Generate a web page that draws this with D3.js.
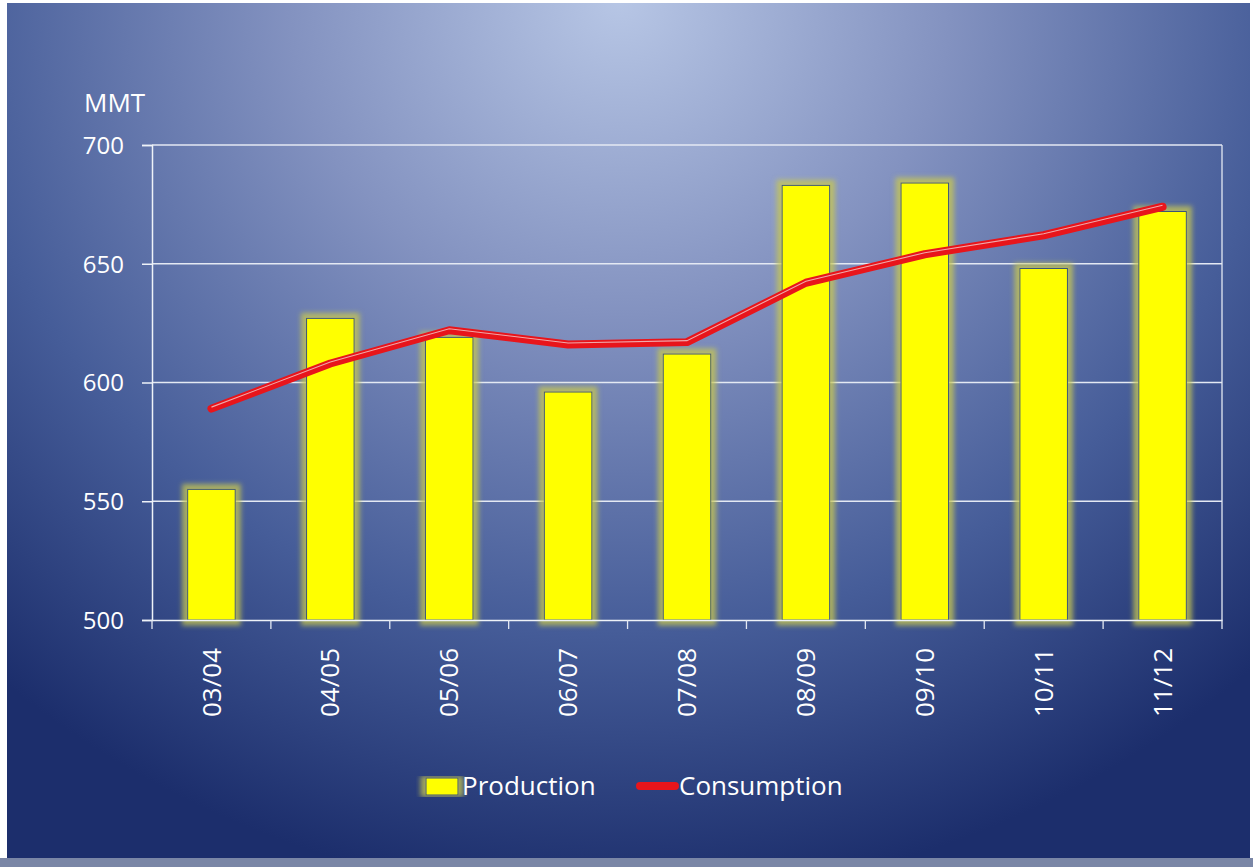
<!DOCTYPE html>
<html>
<head>
<meta charset="utf-8">
<title>Production vs Consumption</title>
<style>
  body { margin: 0; background: #fff; }
  svg text { font-family: "Open Sans", "Noto Sans", sans-serif; fill: #fff; }
</style>
</head>
<body>
<svg id="chart" width="1253" height="867"></svg>
<script src="https://d3js.org/d3.v7.min.js"></script>
<script>
// chart data (MMT)
var seasons = ['03/04', '04/05', '05/06', '06/07', '07/08', '08/09', '09/10', '10/11', '11/12'];
var production = [555, 627, 619, 596, 612, 683, 684, 648, 672];
var consumption = [589, 608, 622, 616, 617, 642, 654, 662, 674];
var yTicks = [500, 550, 600, 650, 700];

var svg = d3.select('#chart');
var defs = svg.append('defs');

// background gradient: light at top centre, navy at the edges
var bg = defs.append('radialGradient').attr('id', 'bg')
  .attr('gradientUnits', 'userSpaceOnUse')
  .attr('cx', 620).attr('cy', 0).attr('r', 900)
  .attr('gradientTransform', 'translate(620,0) scale(1.05,1) translate(-620,0)');
bg.append('stop').attr('offset', '0%').attr('stop-color', '#b7c6e5');
bg.append('stop').attr('offset', '35%').attr('stop-color', '#8392c0');
bg.append('stop').attr('offset', '70%').attr('stop-color', '#465d99');
bg.append('stop').attr('offset', '100%').attr('stop-color', '#1c2e6c');

// soft yellow glow around the bars
var glow = defs.append('filter').attr('id', 'glow')
  .attr('x', '-30%').attr('y', '-10%').attr('width', '160%').attr('height', '120%');
glow.append('feMorphology').attr('in', 'SourceAlpha').attr('operator', 'dilate').attr('radius', 5).attr('result', 'd');
glow.append('feGaussianBlur').attr('in', 'd').attr('stdDeviation', 2.5).attr('result', 'b');
glow.append('feFlood').attr('flood-color', '#c8c850').attr('flood-opacity', 0.75);
glow.append('feComposite').attr('in2', 'b').attr('operator', 'in').attr('result', 'g');
var fm = glow.append('feMerge');
fm.append('feMergeNode').attr('in', 'g');
fm.append('feMergeNode').attr('in', 'SourceGraphic');

svg.append('rect').attr('x', 7).attr('y', 3).attr('width', 1243).attr('height', 855)
  .attr('fill', 'url(#bg)');
svg.append('rect').attr('x', 0).attr('y', 858).attr('width', 1253).attr('height', 9)
  .attr('fill', '#7a86a6');

var plotL = 152, plotR = 1222, plotT = 145, plotB = 620;

var x = d3.scaleBand().domain(seasons).range([plotL, plotR]).paddingInner(0).paddingOuter(0);
var y = d3.scaleLinear().domain([500, 700]).range([plotB, plotT]);

// grid lines
svg.append('g').selectAll('line').data(yTicks.slice(1)).join('line')
  .attr('x1', plotL).attr('x2', plotR)
  .attr('y1', function(d) { return y(d); }).attr('y2', function(d) { return y(d); })
  .attr('stroke', '#e4e9f3').attr('stroke-width', 1.3);
svg.append('line').attr('x1', plotR).attr('x2', plotR).attr('y1', plotT).attr('y2', plotB)
  .attr('stroke', '#e4e9f3').attr('stroke-width', 1.3);

// bars
var bw = x.bandwidth() * 0.4;
svg.append('g').selectAll('rect').data(production).join('rect')
  .attr('x', function(d, i) { return x(seasons[i]) + x.bandwidth() / 2 - bw / 2; })
  .attr('y', function(d) { return y(d); })
  .attr('width', bw)
  .attr('height', function(d) { return plotB - y(d); })
  .attr('fill', '#ffff00')
  .attr('stroke', '#3a5577').attr('stroke-width', 1)
  .attr('filter', 'url(#glow)');

// axes
var yAxis = svg.append('g').attr('transform', 'translate(' + plotL + ',0)')
  .call(d3.axisLeft(y).tickValues(yTicks).tickSize(10).tickPadding(18));
yAxis.selectAll('text').attr('font-size', 24).style('fill', '#fff')
  .attr('font-family', '"Open Sans", sans-serif').attr('dy', '0.35em');

var xAxis = svg.append('g').attr('transform', 'translate(0,' + plotB + ')')
  .call(d3.axisBottom(x).tickSize(0).tickSizeOuter(0));
xAxis.selectAll('text')
  .attr('font-size', 26).style('fill', '#fff')
  .attr('font-family', '"Open Sans", sans-serif')
  .attr('transform', 'rotate(-90)')
  .attr('text-anchor', 'end')
  .attr('x', -28).attr('y', 0).attr('dy', '0.35em');
// category boundary ticks
svg.append('g').selectAll('line').data(seasons.concat(['end'])).join('line')
  .attr('x1', function(d, i) { return plotL + i * x.bandwidth(); })
  .attr('x2', function(d, i) { return plotL + i * x.bandwidth(); })
  .attr('y1', plotB).attr('y2', plotB + 9)
  .attr('stroke', '#e4e9f3').attr('stroke-width', 1.3);

svg.selectAll('.domain').attr('stroke', '#eef2f8').attr('stroke-width', 1.5);
svg.selectAll('.tick line').attr('stroke', '#eef2f8').attr('stroke-width', 1.5);

svg.append('text').attr('x', 84).attr('y', 112).attr('font-size', 26).text('MMT');

// consumption line with a light highlight
var line = d3.line()
  .x(function(d, i) { return x(seasons[i]) + x.bandwidth() / 2; })
  .y(function(d) { return y(d); })
  .curve(d3.curveLinear);
svg.append('path').datum(consumption).attr('d', line)
  .attr('fill', 'none').attr('stroke', '#e8151b').attr('stroke-width', 8)
  .attr('stroke-linecap', 'round').attr('stroke-linejoin', 'round');
svg.append('path').datum(consumption).attr('d', line)
  .attr('transform', 'translate(0,-1.5)')
  .attr('fill', 'none').attr('stroke', '#f0a8aa').attr('stroke-width', 1.1);

// legend
var lg = svg.append('g');
lg.append('rect').attr('x', 426).attr('y', 778).attr('width', 32).attr('height', 17)
  .attr('fill', '#ffff00').attr('stroke', '#3a5577').attr('filter', 'url(#glow)');
lg.append('text').attr('x', 462).attr('y', 795).attr('font-size', 26).text('Production');
lg.append('line').attr('x1', 640).attr('x2', 675).attr('y1', 786).attr('y2', 786)
  .attr('stroke', '#e8151b').attr('stroke-width', 8).attr('stroke-linecap', 'round');
lg.append('text').attr('x', 679).attr('y', 795).attr('font-size', 26).text('Consumption');
</script>
</body>
</html>
